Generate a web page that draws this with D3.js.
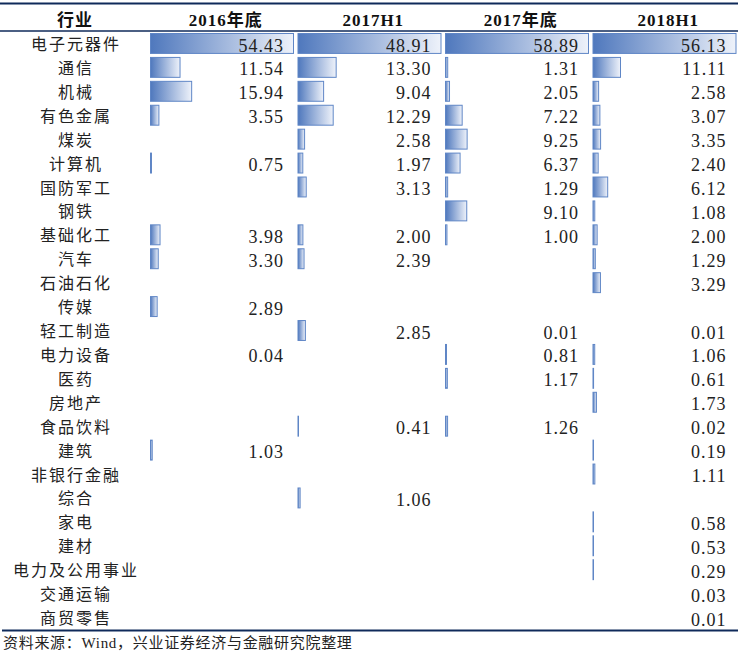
<html>

<head>
  <script src="https://d3js.org/d3.v7.min.js"></script>
  <style>
    body { margin: 0; background: #fff; }
    .head { font-family: "Liberation Serif", "Noto Sans CJK SC", serif; font-size: 17px; font-weight: bold; text-anchor: middle; fill: #111; letter-spacing: 1px; }
    .label { font-family: "Noto Sans CJK SC", sans-serif; font-size: 16px; text-anchor: middle; fill: #222; letter-spacing: 2px; }
    .val { font-family: "Liberation Serif", serif; font-size: 18px; text-anchor: end; fill: #222; letter-spacing: 1px; }
    .src { font-family: "Liberation Serif", "Noto Sans CJK SC", serif; font-size: 15px; fill: #222; letter-spacing: 0.7px; }
  </style>
</head>

<body>
  <svg id="table" width="742" height="658"></svg>

  <script>
    // data
    const industries = ["电子元器件", "通信", "机械", "有色金属", "煤炭", "计算机", "国防军工", "钢铁", "基础化工", "汽车",
      "石油石化", "传媒", "轻工制造", "电力设备", "医药", "房地产", "食品饮料", "建筑", "非银行金融", "综合",
      "家电", "建材", "电力及公用事业", "交通运输", "商贸零售"];
    const periods = ["2016年底", "2017H1", "2017年底", "2018H1"];

    const v2016 = [54.43, 11.54, 15.94, 3.55, null, 0.75, null, null, 3.98, 3.30,
      null, 2.89, null, 0.04, null, null, null, 1.03, null, null,
      null, null, null, null, null];
    const v2017h1 = [48.91, 13.30, 9.04, 12.29, 2.58, 1.97, 3.13, null, 2.00, 2.39,
      null, null, 2.85, null, null, null, 0.41, null, null, 1.06,
      null, null, null, null, null];
    const v2017 = [58.89, 1.31, 2.05, 7.22, 9.25, 6.37, 1.29, 9.10, 1.00, null,
      null, null, 0.01, 0.81, 1.17, null, 1.26, null, null, null,
      null, null, null, null, null];
    const v2018h1 = [56.13, 11.11, 2.58, 3.07, 3.35, 2.40, 6.12, 1.08, 2.00, 1.29,
      3.29, null, 0.01, 1.06, 0.61, 1.73, 0.02, 0.19, 1.11, null,
      0.58, 0.53, 0.29, 0.03, 0.01];
    const series = [v2016, v2017h1, v2017, v2018h1];

    const svg = d3.select("svg#table");
    const navy = "#0f2a5a";

    // scales
    const yScale = d3.scaleBand()
      .domain(industries)
      .range([32, 630]);
    const colScale = d3.scaleBand()
      .domain(periods)
      .range([148, 738]);
    const barMax = 144;

    // gradient for data bars
    const defs = svg.append("defs");
    const grad = defs.append("linearGradient").attr("id", "barGrad");
    grad.append("stop").attr("offset", "0%").attr("stop-color", "#4f78bd");
    grad.append("stop").attr("offset", "100%").attr("stop-color", "#eef2fa");

    // header
    svg.append("text")
      .attr("class", "head")
      .attr("x", 75)
      .attr("y", 26)
      .text("行业");
    svg.selectAll("text.colhead")
      .data(periods)
      .enter()
      .append("text")
      .attr("class", "head colhead")
      .attr("x", d => colScale(d) + colScale.bandwidth() / 2 + 4)
      .attr("y", 26)
      .text(d => d);

    // row labels
    svg.selectAll("text.label")
      .data(industries)
      .enter()
      .append("text")
      .attr("class", "label")
      .attr("x", 76)
      .attr("y", d => yScale(d) + 18)
      .text(d => d);

    // each column: bars + values
    periods.forEach((p, j) => {
      const vals = series[j];
      const xScale = d3.scaleLinear()
        .domain([0, d3.max(vals)])
        .range([0, barMax]);
      const cells = industries.map((name, i) => ({ name: name, v: vals[i] }))
        .filter(d => d.v !== null);
      const g = svg.append("g").attr("transform", `translate(${colScale(p) + 2},0)`);

      g.selectAll("rect")
        .data(cells.filter(d => xScale(d.v) >= 0.3))
        .enter()
        .append("rect")
        .attr("x", 0.5)
        .attr("y", d => yScale(d.name) + 1.5)
        .attr("width", d => Math.max(xScale(d.v) - 1, 0.5))
        .attr("height", yScale.bandwidth() - 4)
        .attr("fill", "url(#barGrad)")
        .attr("stroke", "#5f86c6")
        .attr("stroke-width", 1);

      g.selectAll("text")
        .data(cells)
        .enter()
        .append("text")
        .attr("class", "val")
        .attr("x", 134)
        .attr("y", d => yScale(d.name) + 19.5)
        .text(d => d.v.toFixed(2));
    });

    // rules
    svg.append("line").attr("x1", 0).attr("x2", 738).attr("y1", 3.5).attr("y2", 3.5)
      .attr("stroke", navy).attr("stroke-width", 2);
    svg.append("line").attr("x1", 0).attr("x2", 738).attr("y1", 31).attr("y2", 31)
      .attr("stroke", navy).attr("stroke-width", 1.5);
    svg.append("line").attr("x1", 2).attr("x2", 738).attr("y1", 630.5).attr("y2", 630.5)
      .attr("stroke", navy).attr("stroke-width", 2);

    // source
    svg.append("text")
      .attr("class", "src")
      .attr("x", 3)
      .attr("y", 648)
      .text("资料来源：Wind，兴业证券经济与金融研究院整理");
  </script>
</body>

</html>
